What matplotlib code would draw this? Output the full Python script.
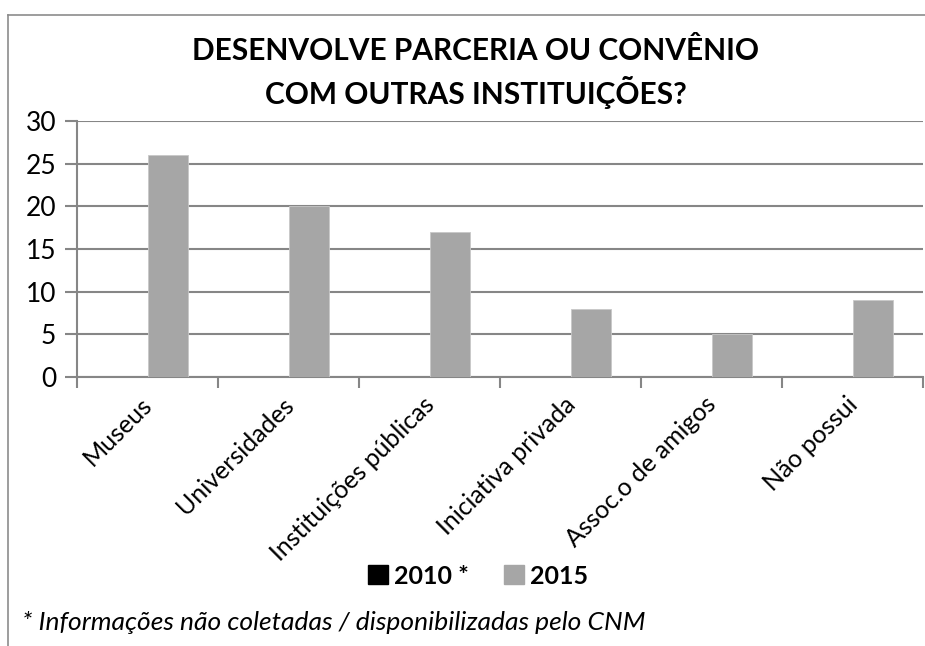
import matplotlib
matplotlib.use("Agg")
import matplotlib.pyplot as plt
import numpy as np
from matplotlib.patches import Patch
from matplotlib.lines import Line2D

# data
categorias = ["Museus", "Universidades", "Instituições públicas",
              "Iniciativa privada", "Assoc.o de amigos", "Não possui"]
valores_2010 = [0, 0, 0, 0, 0, 0]
valores_2015 = [26, 20, 17, 8, 5, 9]
titulo = "DESENVOLVE PARCERIA OU CONVÊNIO\nCOM OUTRAS INSTITUIÇÕES?"
nota = "* Informações não coletadas / disponibilizadas pelo CNM"

plt.rcParams['font.family'] = ['Lato', 'DejaVu Sans']

W, H = 925, 646
fig = plt.figure(figsize=(W/100, H/100), dpi=100)

# chart frame (only left and top visible in reference)
fig.add_artist(Line2D([8/W, 8/W], [0, 1-15/H], color='#8c8c8c', lw=1.2))
fig.add_artist(Line2D([8/W, 1], [1-15/H, 1-15/H], color='#8c8c8c', lw=1.2))

ax = fig.add_axes([77/W, 1-377/H, 846/W, 256/H])

x = np.arange(len(categorias))
bw = 0.284
ax.bar(x - bw/2, valores_2010, bw, color='black', zorder=3)
ax.bar(x + bw/2, valores_2015, bw, color='#a6a6a6', edgecolor='#c8c8c8',
       linewidth=0.6, zorder=3)

ax.set_xlim(-0.5, len(categorias) - 0.5)
ax.set_ylim(0, 30)
ax.set_yticks(np.arange(0, 31, 5))
ax.yaxis.grid(True, color='#868686', lw=1.5)
ax.set_axisbelow(True)

for s in ['top', 'right']:
    ax.spines[s].set_visible(False)
for s in ['left', 'bottom']:
    ax.spines[s].set_color('#868686')
    ax.spines[s].set_linewidth(1.5)

ax.tick_params(axis='y', length=9, width=1.5, color='#868686',
               labelsize=19, pad=6)
ax.set_xticks(np.arange(-0.5, len(categorias) - 0.4, 1))
ax.set_xticklabels([])
ax.tick_params(axis='x', length=8, width=1.5, color='#868686')

for i, c in enumerate(categorias):
    ax.text(i - 0.05, -1.85, c, rotation=45, ha='right', va='top',
            rotation_mode='anchor', fontsize=18)

fig.text(476/W, 1-73/H, titulo, ha='center', va='center', fontsize=21.5,
         fontweight='bold', linespacing=1.4)

handles = [Patch(color='black', label='2010 *'),
           Patch(color='#a6a6a6', label='2015')]
fig.legend(handles=handles, loc='center', bbox_to_anchor=(478/W, 1-576/H),
           ncol=2, frameon=False, prop={'weight': 'bold', 'size': 18},
           handlelength=0.8, handleheight=0.8, handletextpad=0.25,
           columnspacing=1.4)

fig.text(22/W, 1-622/H, nota, ha='left', va='center', fontsize=19,
         style='italic')

fig.savefig("out.png", dpi=100)
